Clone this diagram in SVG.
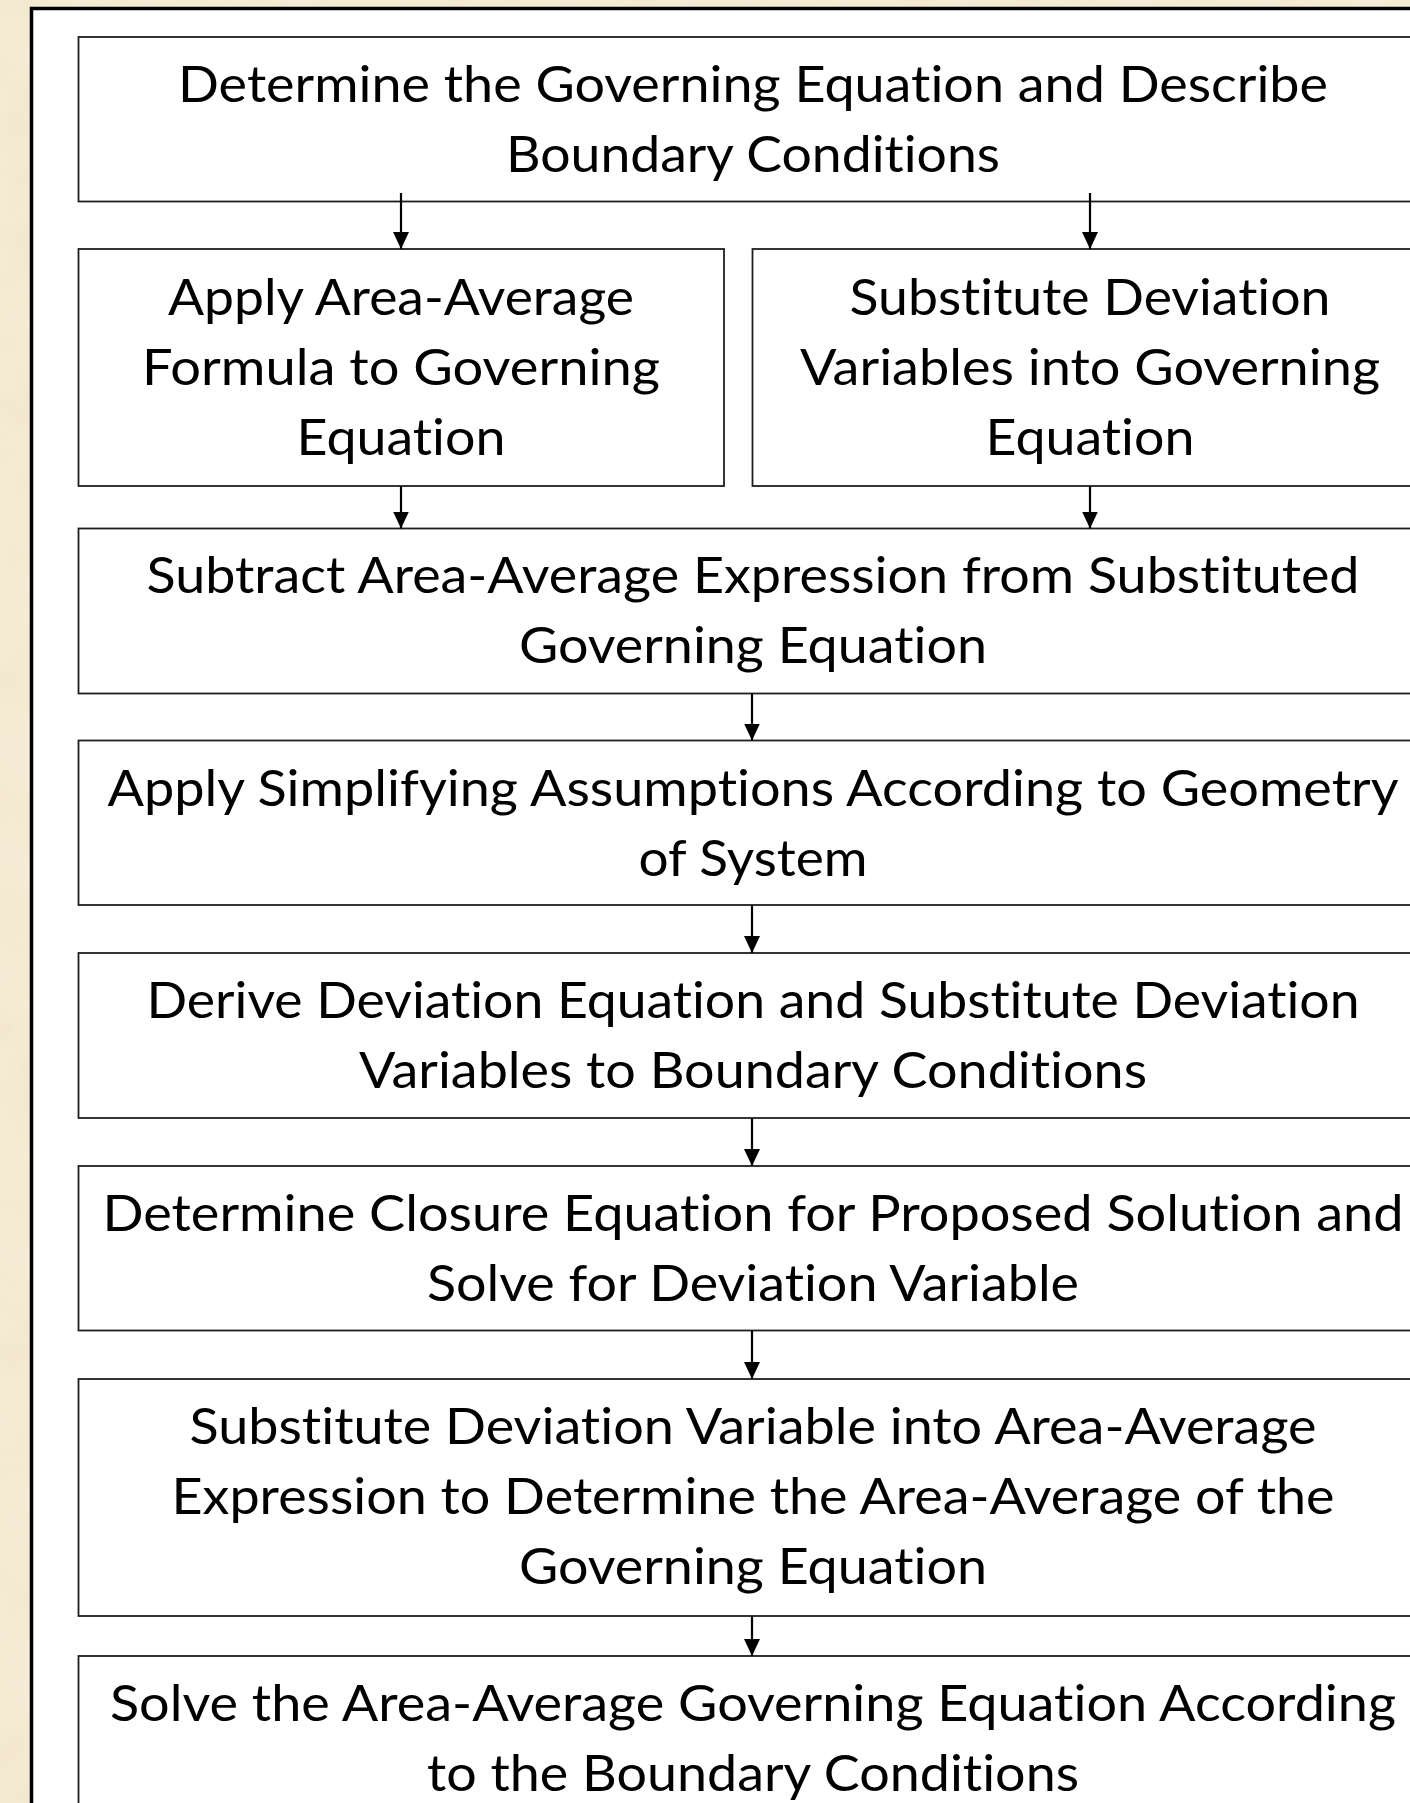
<svg xmlns="http://www.w3.org/2000/svg" width="1410" height="1803" viewBox="0 0 1410 1803">
<defs>
<style>
.box{fill:#ffffff;stroke:#1e1e1e;stroke-width:1.8}
.t{font-family:Lato,"Open Sans","Liberation Sans",sans-serif;font-size:51px;fill:#000;text-anchor:middle;font-variant-ligatures:none;font-feature-settings:"liga" 0,"clig" 0,"dlig" 0}
.c{stroke:#000;stroke-width:2.2;fill:none;marker-end:url(#ah)}
</style>
<marker id="ah" markerUnits="userSpaceOnUse" markerWidth="17" markerHeight="16" refX="17" refY="8" orient="auto">
<path d="M0,0 L17,8 L0,16 z" fill="#000"/>
</marker>
<filter id="paper" x="0" y="0" width="100%" height="100%">
<feTurbulence type="fractalNoise" baseFrequency="0.018" numOctaves="4" seed="7" result="n"/>
<feColorMatrix in="n" type="matrix" values="0 0 0 0 0.84  0 0 0 0 0.74  0 0 0 0 0.54  0.7 0 0 0 -0.22"/>
</filter>
</defs>
<rect x="0" y="0" width="1410" height="1803" fill="#f6ecd5"/>
<rect x="0" y="0" width="1410" height="1803" filter="url(#paper)"/>
<rect x="31.5" y="8.5" width="1500" height="1900" fill="#ffffff" stroke="#000" stroke-width="3.5"/>

<g id="n1">
<rect class="box" x="78.5" y="37" width="1400" height="164.5"/>
<text class="t" x="753" y="102" textLength="1150" lengthAdjust="spacingAndGlyphs">Determine the Governing Equation and Describe</text>
<text class="t" x="753" y="172" textLength="494" lengthAdjust="spacingAndGlyphs">Boundary Conditions</text>
</g>
<g id="n2a">
<rect class="box" x="78.5" y="249" width="645.5" height="237"/>
<text class="t" x="401" y="315" textLength="466" lengthAdjust="spacingAndGlyphs">Apply Area-Average</text>
<text class="t" x="401" y="385" textLength="518" lengthAdjust="spacingAndGlyphs">Formula to Governing</text>
<text class="t" x="401" y="455" textLength="209" lengthAdjust="spacingAndGlyphs">Equation</text>
</g>
<g id="n2b">
<rect class="box" x="752.5" y="249" width="700" height="237"/>
<text class="t" x="1090" y="315" textLength="481" lengthAdjust="spacingAndGlyphs">Substitute Deviation</text>
<text class="t" x="1090" y="385" textLength="580" lengthAdjust="spacingAndGlyphs">Variables into Governing</text>
<text class="t" x="1090" y="455" textLength="209" lengthAdjust="spacingAndGlyphs">Equation</text>
</g>
<g id="n3">
<rect class="box" x="78.5" y="528.5" width="1400" height="165"/>
<text class="t" x="753" y="593" textLength="1213" lengthAdjust="spacingAndGlyphs">Subtract Area-Average Expression from Substituted</text>
<text class="t" x="753" y="663" textLength="468" lengthAdjust="spacingAndGlyphs">Governing Equation</text>
</g>
<g id="n4">
<rect class="box" x="78.5" y="740.5" width="1400" height="164.5"/>
<text class="t" x="753" y="806" textLength="1291" lengthAdjust="spacingAndGlyphs">Apply Simplifying Assumptions According to Geometry</text>
<text class="t" x="753" y="876" textLength="229" lengthAdjust="spacingAndGlyphs">of System</text>
</g>
<g id="n5">
<rect class="box" x="78.5" y="953" width="1400" height="165"/>
<text class="t" x="753" y="1018" textLength="1213" lengthAdjust="spacingAndGlyphs">Derive Deviation Equation and Substitute Deviation</text>
<text class="t" x="753" y="1088" textLength="788" lengthAdjust="spacingAndGlyphs">Variables to Boundary Conditions</text>
</g>
<g id="n6">
<rect class="box" x="78.5" y="1166" width="1400" height="164.5"/>
<text class="t" x="753" y="1231" textLength="1301" lengthAdjust="spacingAndGlyphs">Determine Closure Equation for Proposed Solution and</text>
<text class="t" x="753" y="1301" textLength="652" lengthAdjust="spacingAndGlyphs">Solve for Deviation Variable</text>
</g>
<g id="n7">
<rect class="box" x="78.5" y="1379" width="1400" height="237"/>
<text class="t" x="753" y="1444" textLength="1127" lengthAdjust="spacingAndGlyphs">Substitute Deviation Variable into Area-Average</text>
<text class="t" x="753" y="1514" textLength="1163" lengthAdjust="spacingAndGlyphs">Expression to Determine the Area-Average of the</text>
<text class="t" x="753" y="1584" textLength="468" lengthAdjust="spacingAndGlyphs">Governing Equation</text>
</g>
<g id="n8">
<rect class="box" x="78.5" y="1656" width="1400" height="300"/>
<text class="t" x="753" y="1721" textLength="1286" lengthAdjust="spacingAndGlyphs">Solve the Area-Average Governing Equation According</text>
<text class="t" x="753" y="1791" textLength="652" lengthAdjust="spacingAndGlyphs">to the Boundary Conditions</text>
</g>

<g id="connectors">
<line class="c" x1="401" y1="193" x2="401" y2="249"/>
<line class="c" x1="1090" y1="193" x2="1090" y2="249"/>
<line class="c" x1="401" y1="486" x2="401" y2="528.5"/>
<line class="c" x1="1090" y1="486" x2="1090" y2="528.5"/>
<line class="c" x1="752" y1="693.5" x2="752" y2="740.5"/>
<line class="c" x1="752" y1="905" x2="752" y2="953"/>
<line class="c" x1="752" y1="1118" x2="752" y2="1166"/>
<line class="c" x1="752" y1="1330.5" x2="752" y2="1379"/>
<line class="c" x1="752" y1="1616" x2="752" y2="1656"/>
</g>
</svg>
